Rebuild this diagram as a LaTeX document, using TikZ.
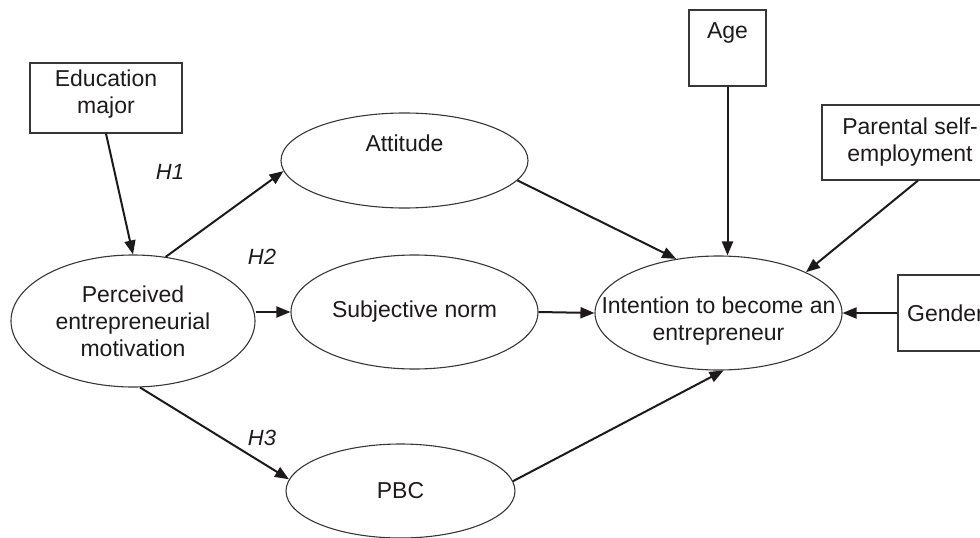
\documentclass[tikz,border=0pt]{standalone}
\usepackage{fontspec}
\setmainfont{Liberation Sans}
\usepackage{tikz}
\usetikzlibrary{arrows.meta,shapes.geometric}
\usepackage{xcolor}
\definecolor{ink}{RGB}{30,26,27}
\definecolor{rim}{RGB}{55,55,55}

\tikzset{
  construct/.style={ellipse, draw=rim, line width=1.1pt, inner sep=0pt},
  observed/.style={rectangle, draw=rim, line width=1.1pt, inner sep=0pt, align=center},
  link/.style={draw=ink, line width=2pt, -{Triangle[length=14pt,width=11pt]}},
  hyp/.style={font=\fontsize{22}{26}\selectfont\itshape},
  every label/.style={align=center},
}

\begin{document}
\begin{tikzpicture}[x=1pt,y=1pt,yscale=-1,xscale=1,font=\fontsize{23}{27}\selectfont,text=ink]
\useasboundingbox (0,0) rectangle (980,538);
\clip (0,0) rectangle (980,538);

%Shape: Rectangles (observed variables)
\node [observed, minimum width=152pt, minimum height=70pt, label={[yshift=4pt]center:Education\\major}] (edu) at (106,98) {};
\node [observed, minimum width=77pt, minimum height=76pt] (age) at (727.5,48) {Age\\\strut};
\node [observed, minimum width=176pt, minimum height=75pt] (par) at (910,142.5) {Parental self-\\employment};
\node [observed, minimum width=95pt, minimum height=76pt] (gen) at (945.5,313) {Gender};

%Shape: Ellipses (constructs)
\node [construct, minimum width=244pt, minimum height=132pt, label={center:Perceived\\entrepreneurial\\motivation}] (perc) at (133,321) {};
\node [construct, minimum width=247pt, minimum height=95pt, label={center:Attitude\\\strut}] (att) at (404.5,160.5) {};
\node [construct, minimum width=247pt, minimum height=114pt, label={center:Subjective norm}] (subj) at (414.5,312) {};
\node [construct, minimum width=229pt, minimum height=94pt, label={center:PBC}] (pbc) at (400.5,491) {};
\node [construct, minimum width=247pt, minimum height=114pt, label={[yshift=-8pt]center:Intention to become an\\entrepreneur}] (int) at (718.5,313) {};

%Straight Lines (paths)
\draw [link] (edu.south) -- (perc.north);
\draw [link] (perc.63) -- (att.185);
\draw [link] (perc.east |- subj.west) -- (subj.west);
\draw [link] (perc.-84) -- (pbc.174);
\draw [link] (att.-10) -- (int.128);
\draw [link] (subj.east) -- (int.west);
\draw [link] (pbc.5) -- (int.-85);
\draw [link] (age.south) -- (age.south |- int.north);
\draw [link] ([xshift=8pt]par.south) -- (int.25);
\draw [link] (gen.west) -- (int.east);

% Text Node
\node [hyp] (h1) at (170,172) {H1};
% Text Node
\node [hyp] (h2) at (262,257) {H2};
% Text Node
\node [hyp] (h3) at (262,438) {H3};

\end{tikzpicture}
\end{document}
